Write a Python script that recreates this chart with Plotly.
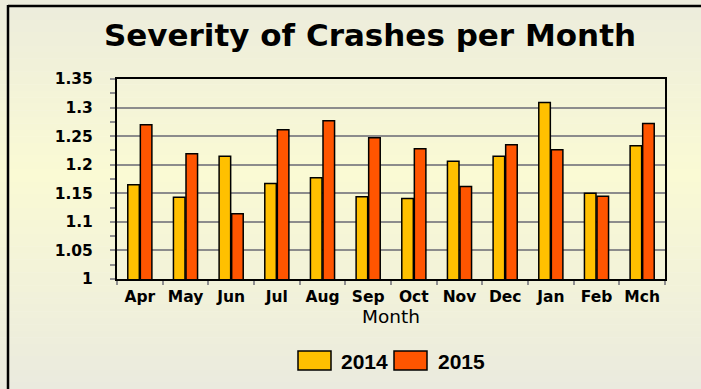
import plotly.graph_objects as go

# Monthly crash severity index, financial year Apr-Mch
months = ["Apr", "May", "Jun", "Jul", "Aug", "Sep", "Oct", "Nov", "Dec", "Jan", "Feb", "Mch"]
sev_2014 = [1.165, 1.143, 1.215, 1.167, 1.177, 1.144, 1.141, 1.206, 1.215, 1.309, 1.150, 1.233]
sev_2015 = [1.270, 1.219, 1.114, 1.261, 1.277, 1.247, 1.228, 1.162, 1.235, 1.226, 1.145, 1.272]

y_ticks = [1.0, 1.05, 1.1, 1.15, 1.2, 1.25, 1.3, 1.35]
y_tick_text = ["1", "1.05", "1.1", "1.15", "1.2", "1.25", "1.3", "1.35"]

series_names = ["2014", "2015"]
series_colors = ["#FFC000", "#FF5500"]

W, H = 701, 389
L, R, T, B = 117, 36, 79, 110
PW, PH = W - L - R, H - T - B


def px_x(px):
    return (px - L) / PW


def px_y(py):
    return 1 - (py - T) / PH


fig = go.Figure()
for name, vals, col in zip(series_names, [sev_2014, sev_2015], series_colors):
    fig.add_trace(go.Bar(
        x=months, y=vals, name=name,
        marker=dict(color=col, line=dict(color="black", width=1.5)),
        showlegend=False,
    ))

# soft vertical background gradient built from thin bands
stops = [(0.0, (236, 236, 220)), (0.45, (250, 250, 212)), (1.0, (234, 234, 222))]


def grad(t):
    for (t0, c0), (t1, c1) in zip(stops[:-1], stops[1:]):
        if t0 <= t <= t1:
            f = (t - t0) / (t1 - t0)
            return "rgb(%d,%d,%d)" % tuple(round(a + (b - a) * f) for a, b in zip(c0, c1))
    return "rgb(%d,%d,%d)" % stops[-1][1]


shapes = []
n_bands = 60
for i in range(n_bands):
    y0 = H * i / n_bands
    y1 = H * (i + 1) / n_bands + 0.5
    shapes.append(dict(type="rect", xref="paper", yref="paper", layer="below",
                       x0=px_x(-2), x1=px_x(W + 2), y0=px_y(y1), y1=px_y(y0),
                       line=dict(width=0), fillcolor=grad((i + 0.5) / n_bands)))

# frame edges on the top and left of the canvas
shapes.append(dict(type="line", xref="paper", yref="paper", x0=px_x(8), x1=px_x(W + 2),
                   y0=px_y(6), y1=px_y(6), line=dict(color="black", width=2.5)))
shapes.append(dict(type="line", xref="paper", yref="paper", x0=px_x(8), x1=px_x(8),
                   y0=px_y(5), y1=px_y(H + 2), line=dict(color="black", width=2.5)))

# legend swatches
annotations = []
legend_items = [(298, 331, 339), (394, 427, 436)]
for (bx0, bx1, tx), name, col in zip(legend_items, series_names, series_colors):
    shapes.append(dict(type="rect", xref="paper", yref="paper",
                       x0=px_x(bx0), x1=px_x(bx1), y0=px_y(370), y1=px_y(351),
                       fillcolor=col, line=dict(color="black", width=1.5)))
    annotations.append(dict(text="<b>%s</b>" % name, xref="paper", yref="paper",
                            x=px_x(tx), y=px_y(361), xanchor="left", yanchor="middle",
                            showarrow=False, font=dict(family="Liberation Sans", size=21, color="black")))

annotations.append(dict(text="<b>Severity of Crashes per Month</b>", xref="paper", yref="paper",
                        x=px_x(369.5), y=px_y(35), xanchor="center", yanchor="middle",
                        showarrow=False, font=dict(family="DejaVu Sans", size=31, color="black")))

tick_font = dict(family="DejaVu Sans", size=15.5, color="black", weight="bold")

fig.update_layout(
    width=W, height=H,
    margin=dict(l=L, r=R, t=T, b=B),
    paper_bgcolor="rgba(0,0,0,0)",
    plot_bgcolor="rgba(0,0,0,0)",
    barmode="group", bargap=0.45, bargroupgap=0.08,
    shapes=shapes, annotations=annotations,
    xaxis=dict(
        type="category", categoryarray=months, range=[-0.5, 11.5],
        showline=True, linecolor="black", linewidth=2, mirror=True,
        ticks="outside", ticklen=4, tickwidth=2, tickcolor="#909090", tickson="boundaries",
        tickfont=tick_font, ticklabelstandoff=2,
        title=dict(text="Month", font=dict(family="DejaVu Sans", size=18.5, color="black"), standoff=3),
        showgrid=False,
    ),
    yaxis=dict(
        range=[1, 1.35], tickvals=y_ticks, ticktext=y_tick_text,
        showline=True, linecolor="black", linewidth=2, mirror=True,
        ticks="outside", ticklen=5, tickwidth=2, tickcolor="#909090",
        tickfont=tick_font, ticklabelstandoff=14,
        showgrid=True, gridcolor="#8c8c8c", gridwidth=2,
        minor=dict(dtick=0.025, tick0=1.0, ticks="outside", ticklen=5, tickwidth=2,
                   tickcolor="#909090", showgrid=False),
        zeroline=False,
    ),
    # companion axes carry the inner half of the crossing tick marks
    xaxis2=dict(
        type="category", categoryarray=months, range=[-0.5, 11.5], overlaying="x",
        anchor="y2", ticks="inside", ticklen=4, tickwidth=2, tickcolor="#909090",
        tickson="boundaries", showticklabels=False, showgrid=False, showline=False,
    ),
    yaxis2=dict(
        range=[1, 1.35], tickvals=y_ticks, overlaying="y", anchor="x2",
        ticks="inside", ticklen=5, tickwidth=2, tickcolor="#909090",
        minor=dict(dtick=0.025, tick0=1.0, ticks="inside", ticklen=5, tickwidth=2,
                   tickcolor="#909090", showgrid=False),
        showticklabels=False, showgrid=False, showline=False, zeroline=False,
    ),
)

fig.write_html("out.html")
